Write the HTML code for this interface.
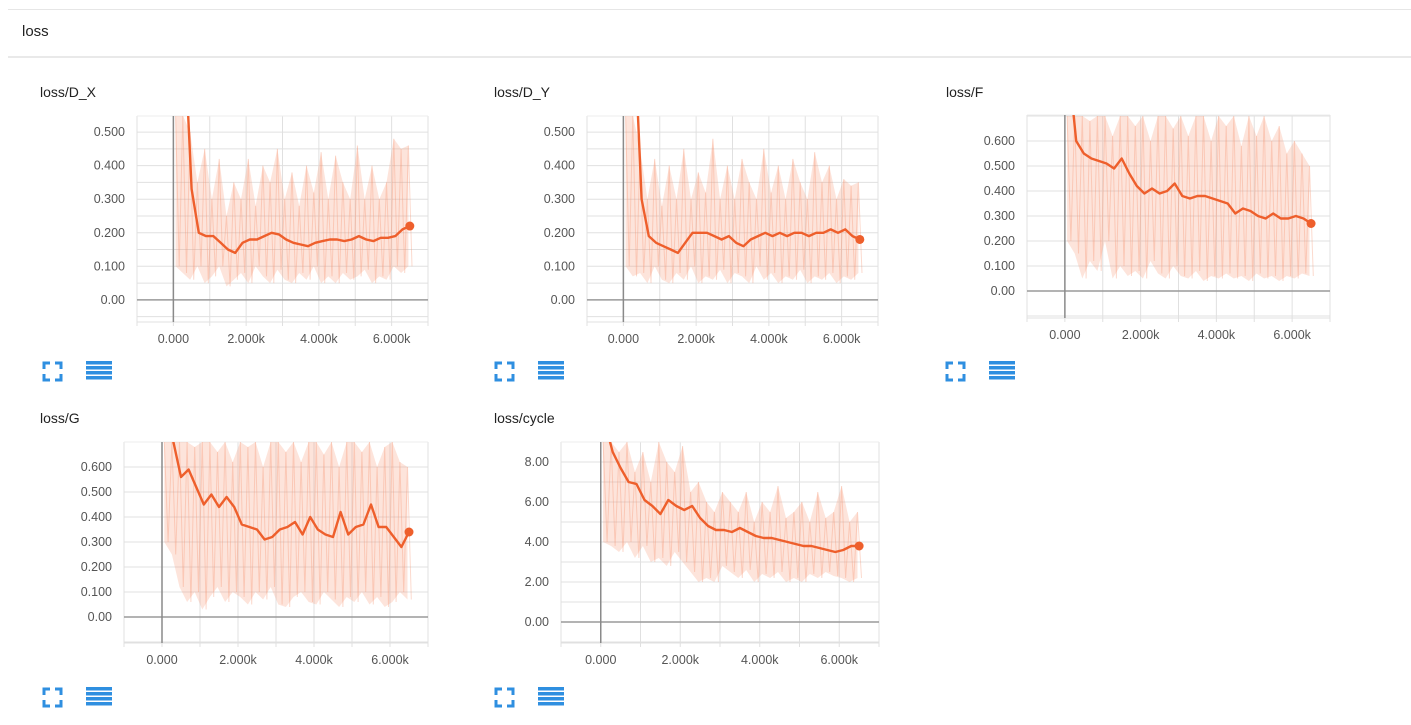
<!DOCTYPE html>
<html><head><meta charset="utf-8">
<style>
html,body{margin:0;padding:0;background:#fff;width:1411px;height:725px;overflow:hidden;font-family:"Liberation Sans",sans-serif;}
#hdr{position:absolute;left:8px;top:9px;width:1403px;height:46px;border-top:1px solid #e6e6e6;border-bottom:2px solid #e9e9e9;background:#fff;}
#hdr span{position:absolute;left:14px;top:13px;font-size:15px;color:#222;}
svg{position:absolute;left:0;top:0;}
</style></head><body>
<div id="hdr"><span>loss</span></div>
<svg id="svg" width="1411" height="725"></svg>
<script>
const xTickVals=[0,2000,4000,6000];
const xTickLabels=["0.000","2.000k","4.000k","6.000k"];
const steps=[0,200,400,600,800,1000,1200,1400,1600,1800,2000,2200,2400,2600,2800,3000,3200,3400,3600,3800,4000,4200,4400,4600,4800,5000,5200,5400,5600,5800,6000,6200,6400];

const dxSmooth=[1.2,0.8,0.33,0.2,0.19,0.19,0.17,0.15,0.14,0.17,0.18,0.18,0.19,0.2,0.195,0.18,0.17,0.165,0.16,0.17,0.175,0.18,0.18,0.175,0.18,0.19,0.18,0.175,0.185,0.185,0.19,0.21,0.22];
const dxHi=[0.55,0.55,0.5,0.35,0.45,0.3,0.42,0.25,0.35,0.3,0.42,0.28,0.4,0.35,0.45,0.3,0.38,0.28,0.4,0.32,0.44,0.3,0.43,0.35,0.3,0.46,0.3,0.4,0.3,0.35,0.48,0.45,0.46];
const dxLo=[0.1,0.08,0.06,0.1,0.05,0.07,0.1,0.04,0.06,0.08,0.05,0.1,0.07,0.05,0.09,0.06,0.05,0.08,0.06,0.1,0.05,0.07,0.05,0.08,0.06,0.07,0.09,0.05,0.07,0.06,0.1,0.08,0.1];

const dySmooth=[1.2,0.8,0.3,0.19,0.17,0.16,0.15,0.14,0.17,0.2,0.2,0.2,0.19,0.18,0.19,0.17,0.16,0.18,0.19,0.2,0.19,0.2,0.19,0.2,0.2,0.19,0.2,0.2,0.21,0.2,0.21,0.19,0.18];
const dyHi=[0.55,0.55,0.45,0.3,0.42,0.28,0.4,0.3,0.45,0.3,0.38,0.32,0.48,0.3,0.4,0.3,0.42,0.35,0.3,0.45,0.32,0.4,0.3,0.42,0.35,0.3,0.44,0.35,0.4,0.3,0.36,0.34,0.35];
const dyLo=[0.1,0.07,0.08,0.05,0.1,0.06,0.05,0.08,0.06,0.1,0.05,0.07,0.06,0.09,0.05,0.08,0.07,0.05,0.1,0.06,0.08,0.05,0.07,0.06,0.09,0.05,0.07,0.06,0.08,0.05,0.07,0.06,0.08];

const fSmooth=[0.9,0.6,0.55,0.53,0.52,0.51,0.49,0.53,0.47,0.42,0.39,0.41,0.39,0.4,0.43,0.38,0.37,0.38,0.38,0.37,0.36,0.35,0.31,0.33,0.32,0.3,0.29,0.31,0.29,0.29,0.3,0.29,0.27];
const fHi=[0.7,0.7,0.7,0.68,0.7,0.7,0.62,0.7,0.7,0.66,0.7,0.6,0.7,0.7,0.65,0.7,0.62,0.7,0.7,0.6,0.7,0.66,0.7,0.58,0.7,0.62,0.7,0.6,0.66,0.55,0.6,0.55,0.5];
const fLo=[0.2,0.15,0.05,0.12,0.08,0.2,0.05,0.1,0.06,0.08,0.05,0.12,0.07,0.05,0.1,0.06,0.05,0.08,0.04,0.06,0.05,0.07,0.05,0.06,0.04,0.07,0.05,0.06,0.04,0.06,0.05,0.07,0.06];

const gSmooth=[0.9,0.7,0.56,0.59,0.52,0.45,0.49,0.44,0.48,0.44,0.37,0.36,0.35,0.31,0.32,0.35,0.36,0.38,0.33,0.4,0.35,0.33,0.32,0.42,0.33,0.36,0.37,0.45,0.36,0.36,0.32,0.28,0.34];
const gHi=[0.7,0.7,0.7,0.7,0.68,0.7,0.7,0.66,0.7,0.62,0.7,0.68,0.7,0.6,0.7,0.7,0.66,0.7,0.62,0.7,0.7,0.65,0.7,0.6,0.7,0.7,0.66,0.7,0.6,0.68,0.7,0.62,0.6];
const gLo=[0.3,0.25,0.12,0.06,0.1,0.03,0.08,0.12,0.06,0.1,0.08,0.05,0.1,0.07,0.12,0.05,0.04,0.08,0.1,0.06,0.05,0.1,0.07,0.04,0.08,0.06,0.1,0.05,0.08,0.04,0.06,0.1,0.07];

const cSmooth=[10,8.5,7.7,7.0,6.9,6.1,5.8,5.4,6.1,5.8,5.6,5.8,5.2,4.8,4.6,4.6,4.5,4.7,4.5,4.3,4.2,4.2,4.1,4.0,3.9,3.8,3.8,3.7,3.6,3.5,3.6,3.8,3.8];
const cHi=[9,9,8.5,9,7.5,8.5,7,9,8,7.5,8.8,6.5,7,6,5.5,6.5,6,5.5,6.5,5,6,5.5,6.8,5.2,5.5,6,5,6.5,5.2,5.5,6.8,5,5.5];
const cLo=[4,3.8,3.5,4,3.2,3.8,3,3.2,2.8,3.5,3,2.5,2,2.2,2,2.8,2.5,2.2,2.6,2,2.4,2.2,2.5,2,2.2,2,2.4,2.2,2.5,2.3,2.2,2,2.2];

const NS="http://www.w3.org/2000/svg";
const svg=document.getElementById('svg');
function mk(tag,attrs,parent){const e=document.createElementNS(NS,tag);for(const k in attrs)e.setAttribute(k,attrs[k]);(parent||svg).appendChild(e);return e;}

const charts=[
 {key:'d-x',title:'loss/D_X',tx:40,ty:97,L:137,R:428,T:116,B:322,y0:-0.066,y1:0.548,yt:[0,0.1,0.2,0.3,0.4,0.5],fmt:v=>v===0?'0.00':v.toFixed(3),grid:0.05,sm:dxSmooth,hi:dxHi,lo:dxLo,ix:43,iy:362},
 {key:'d-y',title:'loss/D_Y',tx:494,ty:97,L:587,R:878,T:116,B:322,y0:-0.066,y1:0.548,yt:[0,0.1,0.2,0.3,0.4,0.5],fmt:v=>v===0?'0.00':v.toFixed(3),grid:0.05,sm:dySmooth,hi:dyHi,lo:dyLo,ix:495,iy:362},
 {key:'f',title:'loss/F',tx:946,ty:97,L:1027,R:1330,T:115,B:318,y0:-0.108,y1:0.704,yt:[0,0.1,0.2,0.3,0.4,0.5,0.6],fmt:v=>v===0?'0.00':v.toFixed(3),grid:0.1,sm:fSmooth,hi:fHi,lo:fLo,ix:946,iy:362},
 {key:'g',title:'loss/G',tx:40,ty:423,L:124,R:428,T:442,B:643,y0:-0.104,y1:0.7,yt:[0,0.1,0.2,0.3,0.4,0.5,0.6],fmt:v=>v===0?'0.00':v.toFixed(3),grid:0.1,sm:gSmooth,hi:gHi,lo:gLo,ix:43,iy:688},
 {key:'cycle',title:'loss/cycle',tx:494,ty:423,L:561,R:879,T:442,B:643,y0:-1.05,y1:9.0,yt:[0,2,4,6,8],fmt:v=>v.toFixed(2),grid:1,sm:cSmooth,hi:cHi,lo:cLo,ix:495,iy:688}
];

charts.forEach((c,ci)=>{
 const g=mk('g',{});
 
 
 const xs=v=>c.L+(v+1000)/8000*(c.R-c.L);
 const ys=v=>c.B-(v-c.y0)/(c.y1-c.y0)*(c.B-c.T);
 const t=mk('text',{x:c.tx,y:c.ty,'font-size':14,fill:'#222'},g);t.textContent=c.title;
 
 
 const start=Math.ceil(c.y0/c.grid)*c.grid;
 for(let v=start;v<=c.y1+1e-9;v+=c.grid){
  const yy=ys(v);
  const ln=mk('line',{x1:c.L,x2:c.R,y1:yy,y2:yy,stroke:'#e0e0e0','stroke-width':1},g);
  
  
 }
 for(let v=-1000;v<=7000;v+=1000){
  const xx=xs(v);
  const ln=mk('line',{x1:xx,x2:xx,y1:c.T,y2:c.B+4,stroke:'#e0e0e0','stroke-width':1},g);
  
  
 }
 mk('line',{x1:c.L,x2:c.R,y1:c.B,y2:c.B,stroke:'#e0e0e0'},g);
 mk('line',{x1:c.L,x2:c.R,y1:c.T,y2:c.T,stroke:'#ececec'},g);
 const z=mk('line',{x1:c.L,x2:c.R,y1:ys(0),y2:ys(0),stroke:'#9a9a9a','stroke-width':1.5},g);
 
 
 const zx=mk('line',{x1:xs(0),x2:xs(0),y1:c.T,y2:c.B,stroke:'#8a8a8a','stroke-width':1.5},g);
 
 
 c.yt.forEach(v=>{
  const tt=mk('text',{x:c.L-12,y:ys(v)+4,'font-size':12.5,fill:'#555','text-anchor':'end'},g);
  tt.textContent=c.fmt(v);
  
  
 });
 xTickVals.forEach((v,i)=>{
  const tt=mk('text',{x:xs(v),y:c.B+21,'font-size':12.5,fill:'#555','text-anchor':'middle'},g);
  tt.textContent=xTickLabels[i];
  
  
 });
 const cp=mk('clipPath',{id:'clip'+ci},g);
 mk('rect',{x:c.L,y:c.T,width:c.R-c.L,height:c.B-c.T},cp);
 const pg=mk('g',{'clip-path':'url(#clip'+ci+')'},g);
 let band='';
 steps.forEach((s,i)=>{band+=(i?'L':'M')+xs(s+60).toFixed(1)+','+ys(c.hi[i]).toFixed(1);});
 for(let i=steps.length-1;i>=0;i--)band+='L'+xs(steps[i]+60).toFixed(1)+','+ys(c.lo[i]).toFixed(1);
 const bp=mk('path',{d:band+'Z',fill:'rgba(246,150,115,0.26)',stroke:'none'},pg);
 
 
 let zz='';
 steps.forEach((s,i)=>{
  zz+=(i?'L':'M')+xs(s+60).toFixed(1)+','+ys(c.hi[i]).toFixed(1);
  zz+='L'+xs(s+160).toFixed(1)+','+ys(c.lo[i]).toFixed(1);
 });
 const zp=mk('path',{d:zz,fill:'none',stroke:'rgba(246,150,115,0.35)','stroke-width':1},pg);
 
 
 let d='';
 steps.forEach((s,i)=>{d+=(i?'L':'M')+xs(s+100).toFixed(1)+','+ys(c.sm[i]).toFixed(1);});
 const sp=mk('path',{d:d,fill:'none',stroke:'#ee5f2c','stroke-width':2.4,'stroke-linejoin':'round'},pg);
 
 
 const last=steps.length-1;
 const dot=mk('circle',{cx:xs(steps[last]+100),cy:ys(c.sm[last]),r:4.5,fill:'#ee5f2c'},g);
 
 
 const fs=mk('g',{transform:'translate('+c.ix+','+c.iy+')',stroke:'#2f8fe0','stroke-width':3,fill:'none'},g);
 
 
 mk('path',{d:'M1,7V1H7M12,1H18V7M18,12V18H12M7,18H1V12'},fs);
 const ls=mk('g',{transform:'translate('+(c.ix+43)+','+(c.iy-1)+')',fill:'#2f8fe0'},g);
 
 
 [0,5,10,15].forEach(o=>mk('rect',{x:0,y:o,width:26,height:3.5},ls));
});
</script>
</body></html>
